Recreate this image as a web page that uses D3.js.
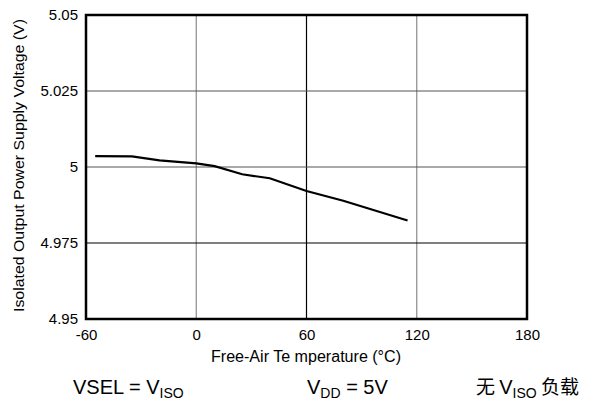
<!DOCTYPE html>
<html>
<head>
<meta charset="utf-8">
<script src="https://cdn.jsdelivr.net/npm/d3@7/dist/d3.min.js"></script>
<style>
  body { margin: 0; background: #fff; }
  svg { display: block; font-family: "Liberation Sans", Arial, sans-serif; }
</style>
</head>
<body>
<svg id="chart" width="595" height="404"></svg>
<script>
// temperature (°C) vs isolated output voltage (V)
var temps = [-55, -35, -20, 0, 10, 25, 40, 60, 80, 115];
var volts = [5.0036, 5.0035, 5.0022, 5.0012, 5.0003, 4.9976, 4.9963, 4.9921, 4.9889, 4.9824];

var xTicks = [-60, 0, 60, 120, 180];
var xTickLabels = ['-60', '0', '60', '120', '180'];
var yTicks = [4.95, 4.975, 5, 5.025, 5.05];
var yTickLabels = ['4.95', '4.975', '5', '5.025', '5.05'];

var margin = {left: 86, top: 15, right: 68, bottom: 85};
var width = 595 - margin.left - margin.right;
var height = 404 - margin.top - margin.bottom;

var svg = d3.select('#chart');
var g = svg.append('g')
  .attr('transform', 'translate(' + margin.left + ',' + margin.top + ')');

var xScale = d3.scaleLinear().domain([-60, 180]).range([0, width]);
var yScale = d3.scaleLinear().domain([4.95, 5.05]).range([height, 0]);

// grid lines - some darker than others like the original
var vColor = {'0': '#8a8a8a', '60': '#000', '120': '#8a8a8a'};
g.selectAll('.vgrid')
  .data(xTicks.slice(1, -1))
  .enter().append('line')
  .attr('class', 'vgrid')
  .attr('x1', d => xScale(d)).attr('x2', d => xScale(d))
  .attr('y1', 0).attr('y2', height)
  .attr('stroke', d => vColor[d])
  .attr('stroke-width', 1.2);

var hColor = {'5.025': '#555', '5': '#555', '4.975': '#000'};
g.selectAll('.hgrid')
  .data(yTicks.slice(1, -1))
  .enter().append('line')
  .attr('class', 'hgrid')
  .attr('x1', 0).attr('x2', width)
  .attr('y1', d => yScale(d)).attr('y2', d => yScale(d))
  .attr('stroke', d => hColor[d])
  .attr('stroke-width', 1.2);

// frame
g.append('rect')
  .attr('width', width).attr('height', height)
  .attr('fill', 'none')
  .attr('stroke', '#000')
  .attr('stroke-width', 2.5);

// axes (labels only)
var xAxis = d3.axisBottom(xScale).tickValues(xTicks).tickSize(0).tickPadding(10)
  .tickFormat((d, i) => xTickLabels[i]);
var yAxis = d3.axisLeft(yScale).tickValues(yTicks).tickSize(0).tickPadding(8)
  .tickFormat((d, i) => yTickLabels[i]);

var gx = g.append('g').attr('transform', 'translate(0,' + height + ')').call(xAxis);
var gy = g.append('g').call(yAxis);
[gx, gy].forEach(function(a) {
  a.select('.domain').remove();
  a.selectAll('text')
    .attr('font-family', '"Liberation Sans", Arial, sans-serif')
    .attr('font-size', '15px')
    .attr('fill', '#000');
});

// data line
var line = d3.line()
  .x((d, i) => xScale(temps[i]))
  .y(d => yScale(d));

g.append('path')
  .datum(volts)
  .attr('d', line)
  .attr('fill', 'none')
  .attr('stroke', '#000')
  .attr('stroke-width', 2.2);

// axis titles
svg.append('text')
  .attr('x', 306)
  .attr('y', 362)
  .attr('text-anchor', 'middle')
  .attr('font-size', '16px')
  .attr('textLength', 190)
  .attr('lengthAdjust', 'spacingAndGlyphs')
  .text('Free-Air Te mperature (°C)');

svg.append('text')
  .attr('transform', 'translate(23.5,165.5) rotate(-90)')
  .attr('text-anchor', 'middle')
  .attr('font-size', '15.5px')
  .attr('textLength', 293)
  .attr('lengthAdjust', 'spacingAndGlyphs')
  .text('Isolated Output Power Supply Voltage (V)');

// conditions row
var cond = svg.append('g').attr('font-size', '20px');

var t1 = cond.append('text').attr('x', 73).attr('y', 394);
t1.append('tspan').text('VSEL = V');
t1.append('tspan').attr('font-size', '14px').attr('dy', 4).text('ISO');

var t2 = cond.append('text').attr('x', 307).attr('y', 394);
t2.append('tspan').text('V');
t2.append('tspan').attr('font-size', '14px').attr('dy', 4).text('DD');
t2.append('tspan').attr('dy', -4).text(' = 5V');

var t3 = cond.append('text').attr('x', 476).attr('y', 394);
t3.append('tspan').attr('font-family', '"Noto Sans CJK SC"').attr('font-size', '19px').text('无 ');
t3.append('tspan').text('V');
t3.append('tspan').attr('font-size', '14px').attr('dy', 4).text('ISO');
t3.append('tspan').attr('dy', -4).attr('font-family', '"Noto Sans CJK SC"').attr('font-size', '19px').text(' 负载');
</script>
</body>
</html>
